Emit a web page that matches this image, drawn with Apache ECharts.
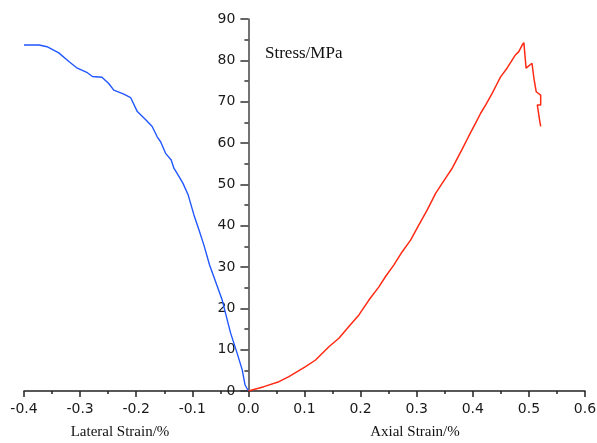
<!DOCTYPE html>
<html>
<head>
<meta charset="utf-8">
<script src="https://cdn.jsdelivr.net/npm/echarts@6/dist/echarts.min.js"></script>
<style>
  html, body { margin: 0; padding: 0; background: #fff; }
  #chart { width: 597px; height: 443px; }
</style>
</head>
<body>
<div id="chart"></div>
<script>
// Lateral strain (%) and stress (MPa) — left branch
const lateralStrain = [0, -0.0059, -0.011, -0.020, -0.0317, -0.0467, -0.0597, -0.0692, -0.0793, -0.0882,
  -0.0971, -0.1073, -0.1168, -0.1239, -0.1328, -0.1376, -0.1476, -0.1565, -0.1626, -0.1715,
  -0.183, -0.198, -0.210, -0.222, -0.240, -0.249, -0.261, -0.278, -0.287, -0.305,
  -0.320, -0.338, -0.359, -0.373, -0.400];
const lateralStress = [0, 1.45, 5.1, 9.1, 14.0, 22.0, 26.9, 30.5, 35.3, 39.0,
  42.6, 47.4, 50.3, 51.9, 53.9, 55.9, 57.5, 60.3, 61.5, 64.0,
  65.6, 67.6, 71.0, 71.8, 72.8, 74.4, 75.9, 76.1, 77.0, 78.1,
  79.7, 81.8, 83.3, 83.7, 83.7];

// Axial strain (%) and stress (MPa) — right branch, including post-peak drop
const axialStrain = [0, 0.0178, 0.0276, 0.0544, 0.0722, 0.1019, 0.1197, 0.1435, 0.1613, 0.1791,
  0.197, 0.2148, 0.2326, 0.2445, 0.2594, 0.2742, 0.2891, 0.3039, 0.3188, 0.3337,
  0.3515, 0.3633, 0.3811, 0.390, 0.396, 0.405, 0.414, 0.423, 0.4345, 0.4435,
  0.4495, 0.461, 0.464, 0.476, 0.482, 0.488, 0.491, 0.495, 0.5055, 0.507,
  0.509, 0.513, 0.521, 0.521, 0.515, 0.519, 0.521];
const axialStress = [0, 0.65, 1.05, 2.25, 3.46, 5.88, 7.5, 10.7, 12.75, 15.6,
  18.4, 22.0, 25.2, 27.7, 30.5, 33.7, 36.5, 40.2, 43.8, 47.8,
  51.5, 53.9, 58.5, 60.9, 62.5, 64.8, 67.2, 69.2, 72.0, 74.4,
  76.0, 78.1, 78.5, 81.3, 82.1, 83.7, 84.3, 78.1, 79.3, 79.3,
  75.6, 72.4, 71.6, 69.2, 69.2, 65.6, 64.0];

// Axis ranges and titles
const xRange = [-0.4, 0.6];
const yRange = [0, 90];
const yTitle = 'Stress/MPa';
const xTitleLeft = 'Lateral Strain/%';
const xTitleRight = 'Axial Strain/%';

const pairs = (xs, ys) => xs.map((x, i) => [x, ys[i]]);

const gridLeft = 24, gridRight = 12;
const plotWidth = 597 - gridLeft - gridRight;
// shift the stress axis so it sits at zero strain
const yAxisShift = -plotWidth * (0 - xRange[0]) / (xRange[1] - xRange[0]);

const labelFont = { fontFamily: 'DejaVu Sans', fontSize: 14, color: '#1a1a1a' };
const titleFont = { fontFamily: 'Liberation Serif', fill: '#111' };

const chart = echarts.init(document.getElementById('chart'), null, { renderer: 'canvas' });
chart.setOption({
  animation: false,
  backgroundColor: '#fff',
  grid: { left: gridLeft, right: gridRight, top: 19, bottom: 52, containLabel: false, outerBoundsMode: 'none' },
  xAxis: {
    type: 'value',
    min: xRange[0], max: xRange[1], interval: 0.1,
    axisLine: { show: true, onZero: false, lineStyle: { color: '#222', width: 1.5 } },
    axisTick: { show: true, inside: false, length: 6, lineStyle: { color: '#222', width: 1.5 } },
    minorTick: { show: true, splitNumber: 2, length: 3, lineStyle: { color: '#222', width: 1.5 } },
    splitLine: { show: false },
    axisLabel: Object.assign({
      margin: 11,
      formatter: v => (Math.abs(v) < 1e-9 ? 0 : v).toFixed(1)
    }, labelFont)
  },
  yAxis: {
    type: 'value',
    position: 'left',
    offset: yAxisShift,
    min: yRange[0], max: yRange[1], interval: 10,
    axisLine: { show: true, onZero: false, lineStyle: { color: '#444', width: 1.5 } },
    axisTick: { show: true, inside: false, length: 8, lineStyle: { color: '#333', width: 1.5 } },
    minorTick: { show: true, splitNumber: 2, length: 4, lineStyle: { color: '#333', width: 1.5 } },
    splitLine: { show: false },
    axisLabel: Object.assign({ margin: 13 }, labelFont)
  },
  graphic: [
    { type: 'text', x: 265, y: 54, style: Object.assign({ text: yTitle, fontSize: 17, verticalAlign: 'middle', align: 'left' }, titleFont) },
    { type: 'text', x: 120, y: 432, style: Object.assign({ text: xTitleLeft, fontSize: 15, verticalAlign: 'middle', align: 'center' }, titleFont) },
    { type: 'text', x: 415, y: 432, style: Object.assign({ text: xTitleRight, fontSize: 15, verticalAlign: 'middle', align: 'center' }, titleFont) }
  ],
  series: [
    {
      name: 'Lateral',
      type: 'line',
      data: pairs(lateralStrain, lateralStress),
      showSymbol: false,
      lineStyle: { color: '#2157ff', width: 1.4 },
      z: 3
    },
    {
      name: 'Axial',
      type: 'line',
      data: pairs(axialStrain, axialStress),
      showSymbol: false,
      lineStyle: { color: '#ff2a14', width: 1.5 },
      z: 3
    }
  ]
});
</script>
</body>
</html>
